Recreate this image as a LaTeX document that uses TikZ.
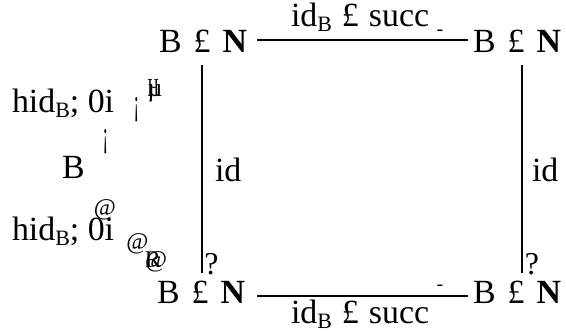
\documentclass[tikz,border=0pt]{standalone}
\usepackage{fontspec}
\setmainfont{Liberation Serif}
\usepackage{graphicx}
\newcommand{\bigfs}{\fontsize{34}{36}\selectfont}
\newcommand{\subB}{\raisebox{-5bp}{\fontsize{22}{24}\selectfont B}}
\newcommand{\crossX}{\hspace{12bp}£\hspace{12bp}}
\newcommand{\crossL}{\hspace{10bp}£\hspace{10bp}}
\begin{document}
\begin{tikzpicture}[x=1bp,y=-1bp,
  txt/.style={inner sep=0pt, outer sep=0pt, anchor=base west, font=\bigfs},
  glyph/.style={inner sep=0pt, outer sep=0pt, anchor=center},
  edge/.style={line width=1.6bp}]
\useasboundingbox (0,0) rectangle (566,330);
% objects
\node[txt] (tl) at (159,52) {B\crossX\textbf{N}};
\node[txt] (tr) at (473,52) {B\crossX\textbf{N}};
\node[txt] (bl) at (157,303) {B\crossX\textbf{N}};
\node[txt] (br) at (473,303) {B\crossX\textbf{N}};
\node[txt] (b) at (62,178) {B};
% labels
\node[txt] (lt) at (291,26) {id\subB\crossL succ};
\node[txt] (lb) at (291,323) {id\subB\crossL succ};
\node[txt] (ll) at (215,181) {id};
\node[txt] (lr) at (532,181) {id};
\node[txt] (pu) at (12,112) {hid\subB; 0i};
\node[txt] (pd) at (12,240) {hid\subB; 0i};
% connector ends
\coordinate (t1) at (257,40); \coordinate (t2) at (468,40);
\coordinate (b1) at (257,296); \coordinate (b2) at (468,296);
\coordinate (l1) at (202,65); \coordinate (l2) at (202,273);
\coordinate (r1) at (522,65); \coordinate (r2) at (522,273);
\draw[edge] (t1) -- (t2);
\draw[edge] (b1) -- (b2);
\draw[edge] (l1) -- (l2);
\draw[edge] (r1) -- (r2);
% broken arrow glyphs
\node[glyph, font=\fontsize{20}{22}\selectfont] (ht) at (440,33) {-};
\node[glyph, font=\fontsize{20}{22}\selectfont] (hb) at (440,288) {-};
\node[glyph, font=\fontsize{32}{34}\selectfont] (ql) at (211.5,264) {?};
\node[glyph, font=\fontsize{32}{34}\selectfont] (qr) at (532,264) {?};
\node[glyph, font=\fontsize{28}{30}\selectfont] (e1) at (136.5,110) {\scalebox{0.6}[1.3]{¡}};
\node[glyph, font=\fontsize{28}{30}\selectfont] (e2) at (105.5,141.5) {\scalebox{0.6}[1.3]{¡}};
\node[glyph, font=\fontsize{26}{28}\selectfont] (e3) at (155,91) {\rlap{\scalebox{0.6}[1]{H}}µ};
\node[glyph, font=\fontsize{24}{26}\selectfont] (a1) at (105,210) {@};
\node[glyph, font=\fontsize{24}{26}\selectfont] (a2) at (137.5,243.5) {@};
\node[glyph, font=\fontsize{24}{26}\selectfont] (a3) at (156,262) {\rlap{R}@};
\end{tikzpicture}
\end{document}
